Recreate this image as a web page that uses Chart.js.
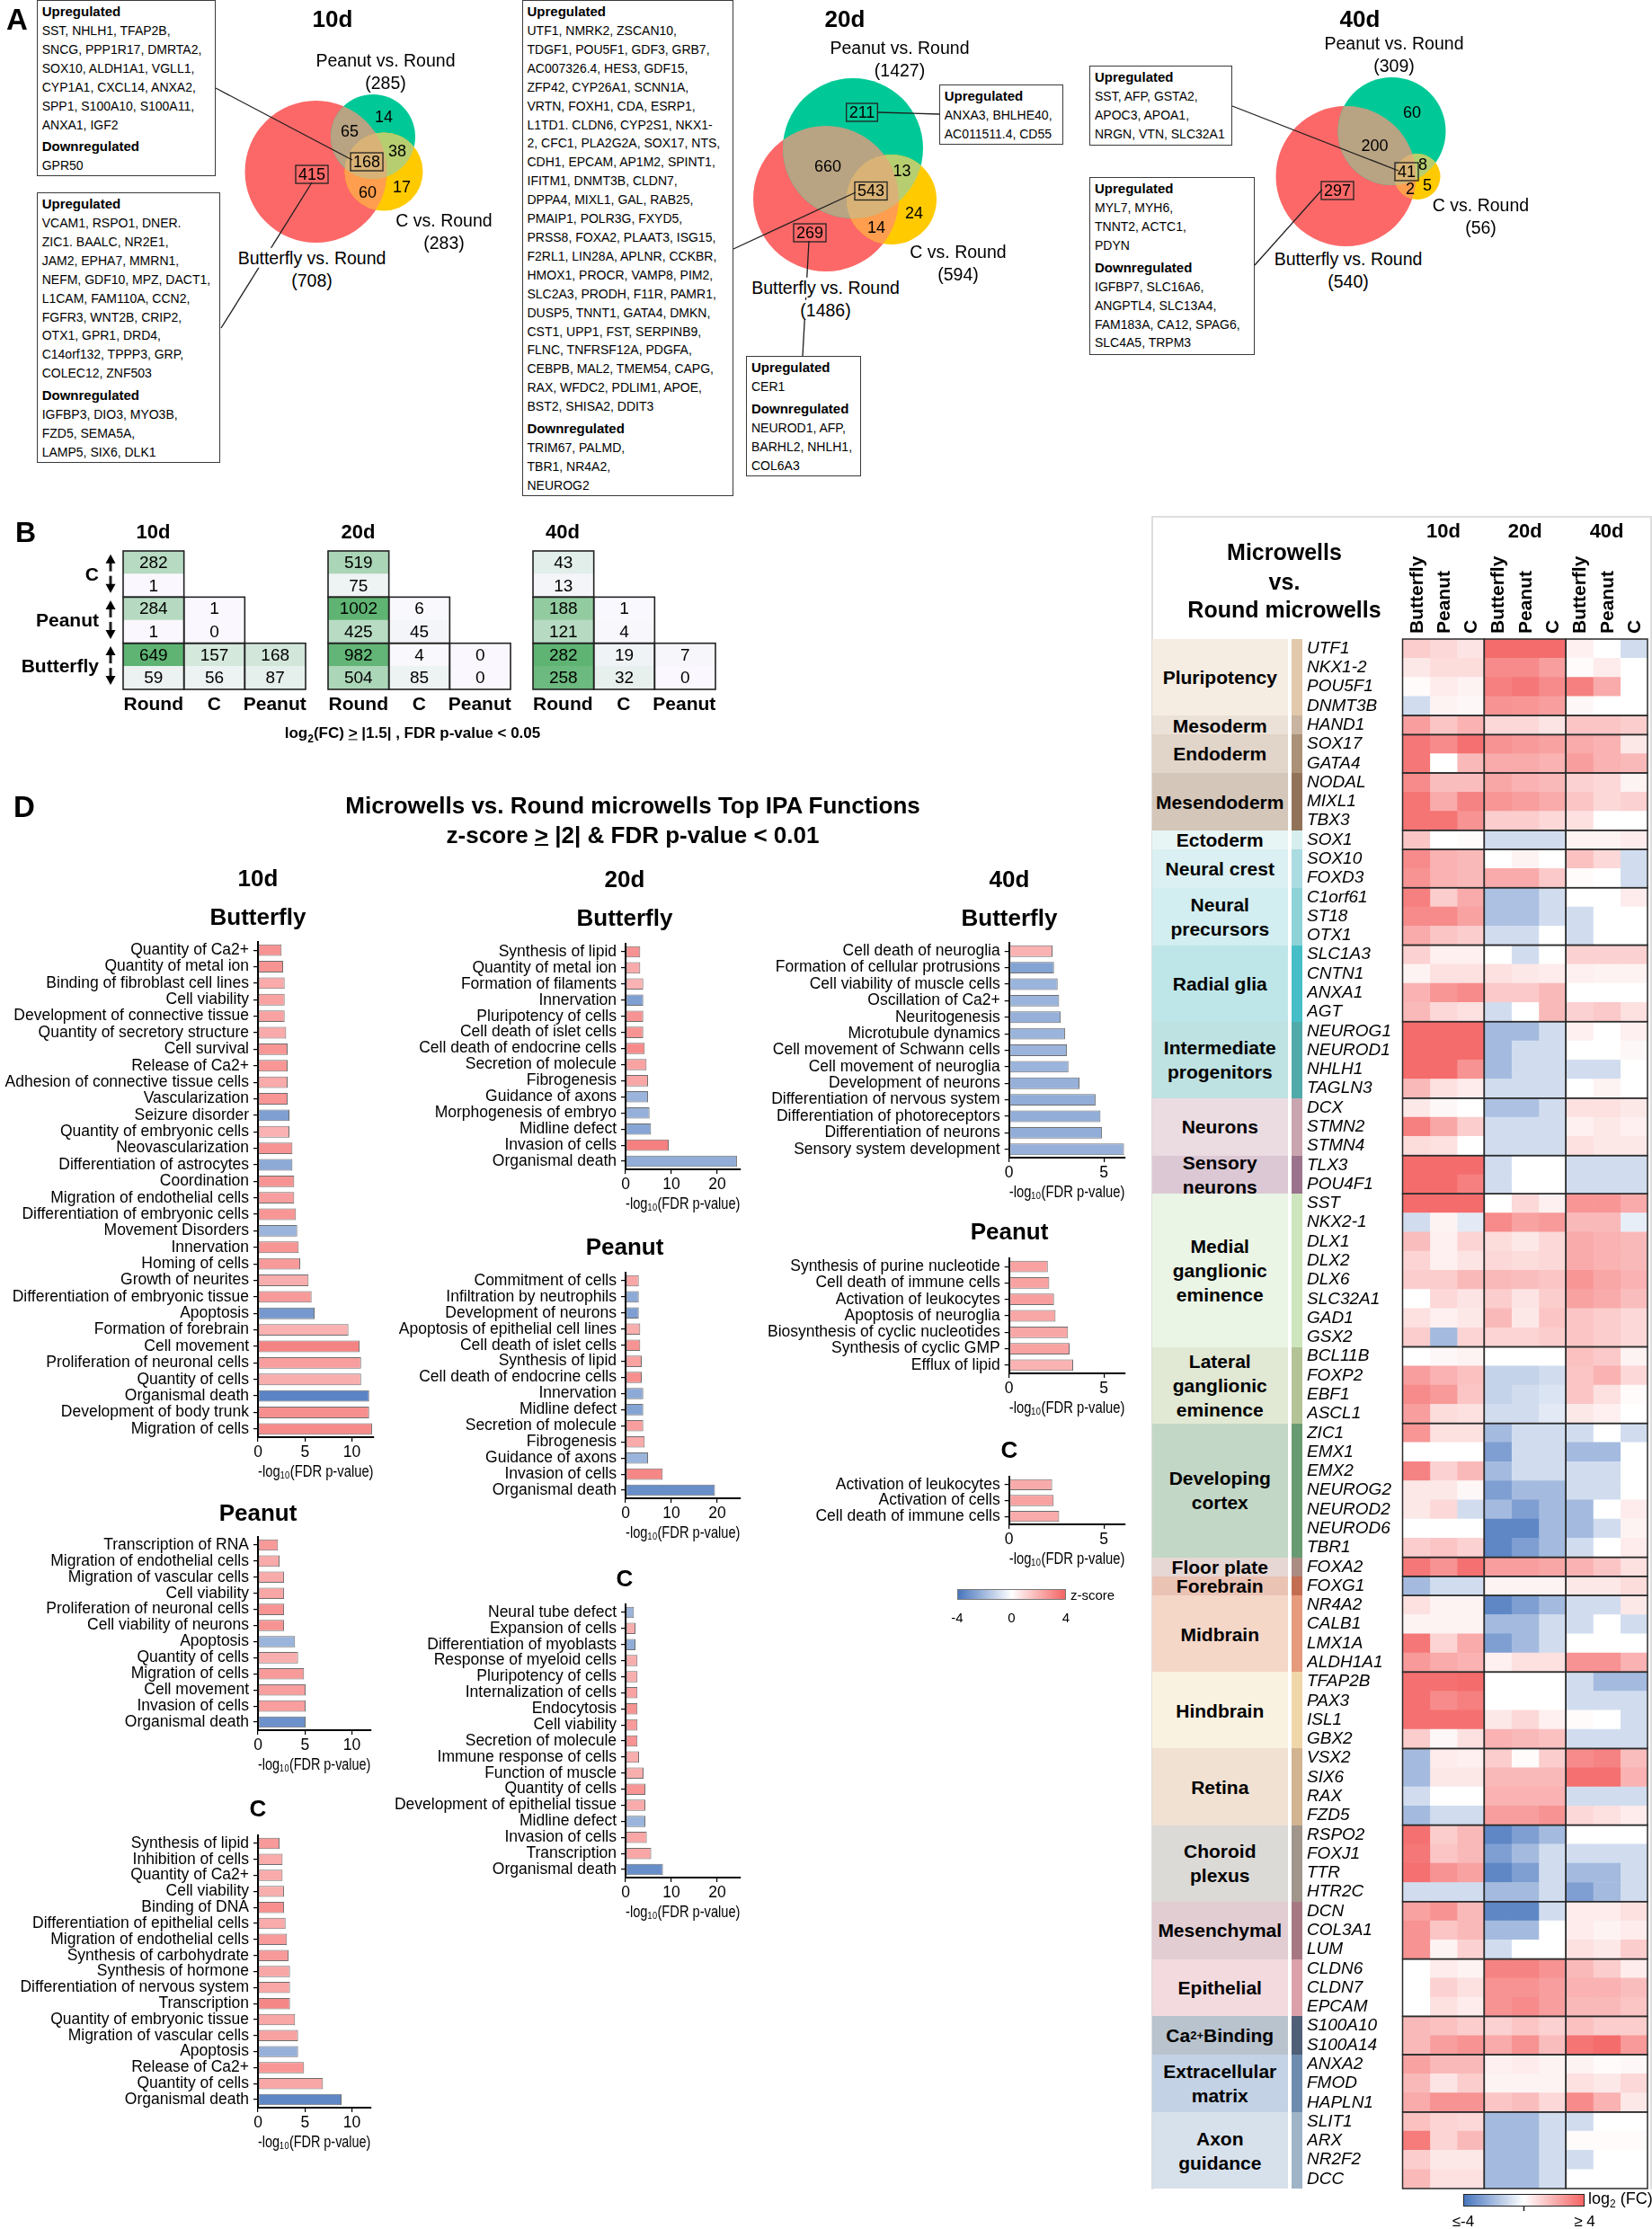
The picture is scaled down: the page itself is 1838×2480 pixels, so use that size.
<!DOCTYPE html>
<html>
<head>
<meta charset="utf-8">
<title>Microwells vs. Round microwells</title>
<script src="https://cdn.jsdelivr.net/npm/chart.js@4.4.1/dist/chart.umd.min.js"></script>
<style>
  html, body { margin: 0; padding: 0; background: #fff; }
  #page { position: relative; width: 1838px; height: 2480px; overflow: hidden;
          font-family: "Liberation Sans", Arial, Helvetica, sans-serif; color: #000; }
  #page canvas { position: absolute; z-index: 1; }
  .t { position: absolute; white-space: nowrap; line-height: 1.15; z-index: 4; }
  .b { font-weight: bold; }
  .gbox { position: absolute; box-sizing: border-box; border: 1.5px solid #3a3a3a; background: #fff;
          padding: 0 0 0 5px; font-size: 14px; line-height: 20.9px; white-space: nowrap; z-index: 2; }
  .gbox .h { font-weight: bold; font-size: 15px; line-height: 23px; }
  .gbox .h2 { margin-top: 2px; }
  .band { position: absolute; box-sizing: border-box; display: flex; align-items: center; justify-content: center;
          text-align: center; font-weight: bold; font-size: 21px; line-height: 27px; }
  #ov { position: absolute; left: 0; top: 0; z-index: 3; pointer-events: none; }
</style>
</head>
<body>
<div id="page"></div>
<script>
// ---------------- data ----------------
// A: Venn counts, order: B only, P only, C only, B&P, B&C, P&C, B&P&C
const vennNames = ['Butterfly vs. Round', 'Peanut vs. Round', 'C vs. Round'];
const venn10dTotals = [708, 285, 283];
const venn10dCounts = [415, 14, 17, 65, 60, 38, 168];
const venn20dTotals = [1486, 1427, 594];
const venn20dCounts = [269, 211, 24, 660, 14, 13, 543];
const venn40dTotals = [540, 309, 56];
const venn40dCounts = [297, 60, 5, 200, 2, 8, 41];

// A: gene lists in the call-out boxes
const box10dTriple = [['Upregulated', ['SST, NHLH1, TFAP2B,', 'SNCG, PPP1R17, DMRTA2,', 'SOX10, ALDH1A1, VGLL1,', 'CYP1A1, CXCL14, ANXA2,', 'SPP1, S100A10, S100A11,', 'ANXA1, IGF2']],
                      ['Downregulated', ['GPR50']]];
const box10dButterfly = [['Upregulated', ['VCAM1, RSPO1, DNER.', 'ZIC1. BAALC, NR2E1,', 'JAM2, EPHA7, MMRN1,', 'NEFM, GDF10, MPZ, DACT1,', 'L1CAM, FAM110A, CCN2,', 'FGFR3, WNT2B, CRIP2,', 'OTX1, GPR1, DRD4,', 'C14orf132, TPPP3, GRP,', 'COLEC12, ZNF503']],
                         ['Downregulated', ['IGFBP3, DIO3, MYO3B,', 'FZD5, SEMA5A,', 'LAMP5, SIX6, DLK1']]];
const box20dTriple = [['Upregulated', ['UTF1, NMRK2, ZSCAN10,', 'TDGF1, POU5F1, GDF3, GRB7,', 'AC007326.4, HES3, GDF15,', 'ZFP42, CYP26A1, SCNN1A,', 'VRTN, FOXH1, CDA, ESRP1,', 'L1TD1. CLDN6, CYP2S1, NKX1-', '2, CFC1, PLA2G2A, SOX17, NTS,', 'CDH1, EPCAM, AP1M2, SPINT1,', 'IFITM1, DNMT3B, CLDN7,', 'DPPA4, MIXL1, GAL, RAB25,', 'PMAIP1, POLR3G, FXYD5,', 'PRSS8, FOXA2, PLAAT3, ISG15,', 'F2RL1, LIN28A, APLNR, CCKBR,', 'HMOX1, PROCR, VAMP8, PIM2,', 'SLC2A3, PRODH, F11R, PAMR1,', 'DUSP5, TNNT1, GATA4, DMKN,', 'CST1, UPP1, FST, SERPINB9,', 'FLNC, TNFRSF12A, PDGFA,', 'CEBPB, MAL2, TMEM54, CAPG,', 'RAX, WFDC2, PDLIM1, APOE,', 'BST2, SHISA2, DDIT3']],
                      ['Downregulated', ['TRIM67, PALMD,', 'TBR1, NR4A2,', 'NEUROG2']]];
const box20dPeanut = [['Upregulated', ['ANXA3, BHLHE40,', 'AC011511.4, CD55']]];
const box20dButterfly = [['Upregulated', ['CER1']], ['Downregulated', ['NEUROD1, AFP,', 'BARHL2, NHLH1,', 'COL6A3']]];
const box40dTriple = [['Upregulated', ['SST, AFP, GSTA2,', 'APOC3, APOA1,', 'NRGN, VTN, SLC32A1']]];
const box40dButterfly = [['Upregulated', ['MYL7, MYH6,', 'TNNT2, ACTC1,', 'PDYN']],
                         ['Downregulated', ['IGFBP7, SLC16A6,', 'ANGPTL4, SLC13A4,', 'FAM183A, CA12, SPAG6,', 'SLC4A5, TRPM3']]];

// B: number of DEGs (rows C, Peanut, Butterfly; columns vs Round, C, Peanut)
const degRows = ['C', 'Peanut', 'Butterfly'];
const degCols = ['Round', 'C', 'Peanut'];
const deg10dUp = [[282], [284, 1], [649, 157, 168]];
const deg10dDown = [[1], [1, 0], [59, 56, 87]];
const deg20dUp = [[519], [1002, 6], [982, 4, 0]];
const deg20dDown = [[75], [425, 45], [504, 85, 0]];
const deg40dUp = [[43], [188, 1], [282, 19, 7]];
const deg40dDown = [[13], [121, 4], [258, 32, 0]];

// D: IPA functions, -log10(FDR p-value) and z-score
const d10ButterflyLabels = ['Quantity of Ca2+', 'Quantity of metal ion', 'Binding of fibroblast cell lines', 'Cell viability', 'Development of connective tissue', 'Quantity of secretory structure', 'Cell survival', 'Release of Ca2+', 'Adhesion of connective tissue cells', 'Vascularization', 'Seizure disorder', 'Quantity of embryonic cells', 'Neovascularization', 'Differentiation of astrocytes', 'Coordination', 'Migration of endothelial cells', 'Differentiation of embryonic cells', 'Movement Disorders', 'Innervation', 'Homing of cells', 'Growth of neurites', 'Differentiation of embryonic tissue', 'Apoptosis', 'Formation of forebrain', 'Cell movement', 'Proliferation of neuronal cells', 'Quantity of cells', 'Organismal death', 'Development of body trunk', 'Migration of cells'];
const d10ButterflyP = [2.52, 2.68, 2.84, 2.84, 2.84, 3.0, 3.16, 3.16, 3.16, 3.16, 3.35, 3.35, 3.67, 3.67, 3.86, 3.86, 4.05, 4.18, 4.34, 4.5, 5.39, 5.71, 6.03, 9.63, 10.81, 10.98, 10.98, 11.84, 11.84, 12.15];
const d10ButterflyZ = [2.8, 2.8, 2.2, 2.4, 2.4, 2.2, 2.7, 2.7, 2.2, 2.7, -2.8, 2.0, 2.8, -2.5, 2.8, 2.5, 2.7, -2.2, 2.7, 2.6, 2.1, 2.6, -3.0, 2.0, 3.2, 2.5, 2.1, -3.6, 2.9, 3.0];

const d10PeanutLabels = ['Transcription of RNA', 'Migration of endothelial cells', 'Migration of vascular cells', 'Cell viability', 'Proliferation of neuronal cells', 'Cell viability of neurons', 'Apoptosis', 'Quantity of cells', 'Migration of cells', 'Cell movement', 'Invasion of cells', 'Organismal death'];
const d10PeanutP = [2.14, 2.3, 2.78, 2.78, 2.78, 2.78, 3.95, 4.27, 4.91, 5.07, 5.07, 5.07];
const d10PeanutZ = [2.6, 2.2, 2.2, 2.3, 2.8, 2.8, -2.2, 2.1, 2.6, 2.5, 2.5, -3.2];

const d10CLabels = ['Synthesis of lipid', 'Inhibition of cells', 'Quantity of Ca2+', 'Cell viability', 'Binding of DNA', 'Differentiation of epithelial cells', 'Migration of endothelial cells', 'Synthesis of carbohydrate', 'Synthesis of hormone', 'Differentiation of nervous system', 'Transcription', 'Quantity of embryonic tissue', 'Migration of vascular cells', 'Apoptosis', 'Release of Ca2+', 'Quantity of cells', 'Organismal death'];
const d10CP = [2.3, 2.62, 2.62, 2.78, 2.78, 2.94, 3.09, 3.25, 3.41, 3.41, 3.41, 3.95, 4.27, 4.27, 4.91, 6.92, 8.9];
const d10CZ = [2.6, 2.2, 2.2, 2.1, 2.9, 2.2, 2.6, 2.6, 2.3, 2.3, 3.1, 2.3, 2.4, -2.3, 2.7, 2.3, -3.5];

const d20ButterflyLabels = ['Synthesis of lipid', 'Quantity of metal ion', 'Formation of filaments', 'Innervation', 'Pluripotency of cells', 'Cell death of islet cells', 'Cell death of endocrine cells', 'Secretion of molecule', 'Fibrogenesis', 'Guidance of axons', 'Morphogenesis of embryo', 'Midline defect', 'Invasion of cells', 'Organismal death'];
const d20ButterflyP = [3.2, 3.2, 3.86, 3.86, 3.86, 3.86, 4.18, 4.58, 4.9, 4.9, 5.23, 5.56, 9.41, 24.3];
const d20ButterflyZ = [2.8, 2.2, 2.0, -2.8, 2.8, 2.8, 3.0, 2.4, 2.3, -2.2, -2.3, -2.6, 3.3, -2.4];

const d20PeanutLabels = ['Commitment of cells', 'Infiltration by neutrophils', 'Development of neurons', 'Apoptosis of epithelial cell lines', 'Cell death of islet cells', 'Synthesis of lipid', 'Cell death of endocrine cells', 'Innervation', 'Midline defect', 'Secretion of molecule', 'Fibrogenesis', 'Guidance of axons', 'Invasion of cells', 'Organismal death'];
const d20PeanutP = [2.88, 2.88, 2.88, 3.2, 3.2, 3.53, 3.53, 3.86, 3.86, 3.86, 4.18, 4.9, 8.1, 19.5];
const d20PeanutZ = [2.3, -2.5, -2.8, 2.1, 2.8, 2.4, 2.9, -2.5, -2.7, 2.5, 2.2, -2.2, 3.1, -3.3];

const d20CLabels = ['Neural tube defect', 'Expansion of cells', 'Differentiation of myoblasts', 'Response of myeloid cells', 'Pluripotency of cells', 'Internalization of cells', 'Endocytosis', 'Cell viability', 'Secretion of molecule', 'Immune response of cells', 'Function of muscle', 'Quantity of cells', 'Development of epithelial tissue', 'Midline defect', 'Invasion of cells', 'Transcription', 'Organismal death'];
const d20CP = [1.83, 2.16, 2.16, 2.6, 2.6, 2.6, 2.6, 2.6, 2.6, 2.94, 3.92, 4.31, 4.31, 4.31, 4.63, 5.6, 8.16];
const d20CZ = [-2.2, 2.1, -2.4, 2.1, 2.1, 2.4, 2.8, 2.6, 2.8, 2.1, 2.1, 2.7, 2.2, -2.2, 2.3, 2.3, -3.3];

const d40ButterflyLabels = ['Cell death of neuroglia', 'Formation of cellular protrusions', 'Cell viability of muscle cells', 'Oscillation of Ca2+', 'Neuritogenesis', 'Microtubule dynamics', 'Cell movement of Schwann cells', 'Cell movement of neuroglia', 'Development of neurons', 'Differentiation of nervous system', 'Differentiation of photoreceptors', 'Differentiation of neurons', 'Sensory system development'];
const d40ButterflyP = [2.29, 2.37, 2.56, 2.64, 2.72, 2.95, 3.05, 3.13, 3.71, 4.56, 4.82, 4.9, 6.06];
const d40ButterflyZ = [2.0, -2.7, -2.2, -2.2, -2.3, -2.2, -2.2, -2.2, -2.3, -2.4, -2.4, -2.4, -2.3];

const d40PeanutLabels = ['Synthesis of purine nucleotide', 'Cell death of immune cells', 'Activation of leukocytes', 'Apoptosis of neuroglia', 'Biosynthesis of cyclic nucleotides', 'Synthesis of cyclic GMP', 'Efflux of lipid'];
const d40PeanutP = [2.04, 2.12, 2.37, 2.45, 3.11, 3.19, 3.38];
const d40PeanutZ = [2.4, 2.4, 2.5, 2.3, 2.3, 2.4, 2.0];

const d40CLabels = ['Activation of leukocytes', 'Activation of cells', 'Cell death of immune cells'];
const d40CP = [2.27, 2.35, 2.64];
const d40CZ = [2.2, 2.4, 2.2];

// C: heatmap of log2(FC), each row = [Butterfly, Peanut, C]
const heatGroupNames = ['Pluripotency', 'Mesoderm', 'Endoderm', 'Mesendoderm', 'Ectoderm', 'Neural crest', 'Neural<br>precursors', 'Radial glia', 'Intermediate<br>progenitors', 'Neurons', 'Sensory<br>neurons', 'Medial<br>ganglionic<br>eminence', 'Lateral<br>ganglionic<br>eminence', 'Developing<br>cortex', 'Floor plate', 'Forebrain', 'Midbrain', 'Hindbrain', 'Retina', 'Choroid<br>plexus', 'Mesenchymal', 'Epithelial', 'Ca<sup style="font-size:13px">2+</sup>Binding', 'Extracellular<br>matrix', 'Axon<br>guidance'];
const heatGroupSizes = [4, 1, 2, 3, 1, 2, 3, 4, 4, 3, 2, 8, 4, 7, 1, 1, 4, 4, 4, 4, 3, 3, 2, 3, 4];
const heatGenes = ['UTF1', 'NKX1-2', 'POU5F1', 'DNMT3B', 'HAND1', 'SOX17', 'GATA4', 'NODAL', 'MIXL1', 'TBX3', 'SOX1', 'SOX10', 'FOXD3', 'C1orf61', 'ST18', 'OTX1', 'SLC1A3', 'CNTN1', 'ANXA1', 'AGT', 'NEUROG1', 'NEUROD1', 'NHLH1', 'TAGLN3', 'DCX', 'STMN2', 'STMN4', 'TLX3', 'POU4F1', 'SST', 'NKX2-1', 'DLX1', 'DLX2', 'DLX6', 'SLC32A1', 'GAD1', 'GSX2', 'BCL11B', 'FOXP2', 'EBF1', 'ASCL1', 'ZIC1', 'EMX1', 'EMX2', 'NEUROG2', 'NEUROD2', 'NEUROD6', 'TBR1', 'FOXA2', 'FOXG1', 'NR4A2', 'CALB1', 'LMX1A', 'ALDH1A1', 'TFAP2B', 'PAX3', 'ISL1', 'GBX2', 'VSX2', 'SIX6', 'RAX', 'FZD5', 'RSPO2', 'FOXJ1', 'TTR', 'HTR2C', 'DCN', 'COL3A1', 'LUM', 'CLDN6', 'CLDN7', 'EPCAM', 'S100A10', 'S100A14', 'ANXA2', 'FMOD', 'HAPLN1', 'SLIT1', 'ARX', 'NR2F2', 'DCC'];
const fc10d = [[1.3,1.0,0.7],[0.6,0.9,0.9],[0.1,0.5,0.3],[-1,0.3,0.2],[2.5,1.5,2],[3.5,3.0,3.7],[3.5,0,1.8],[3.0,1.7,1.7],[3.6,2.2,3.2],[3.6,3.6,2.8],
  [1.5,0,0.1],[3.0,2.0,1.8],[2.8,2.0,1.8],[3.3,1.3,2.2],[3.0,3.0,2.4],[2.2,1.5,1.3],[1.2,0.4,0.4],[0.3,0.8,0.8],[2.0,2.7,3.0],[1.8,1.0,0.8],
  [3.8,3.8,3.8],[3.8,3.8,3.8],[3.8,3.8,2.8],[1.8,0.8,0.5],[0.6,0.2,0],[3.3,2.3,1.3],[0.9,0.8,0],[3.8,3.8,3.8],[3.8,3.8,3.3],[3.8,3.8,3.8],
  [-1,0.3,-0.6],[1.7,0.4,1.1],[1.1,0.4,0.7],[1.3,1.3,1.8],[0,1.0,0.7],[0.8,0.4,0.6],[1.3,-2,1.1],[0,0.2,0.3],[2.5,2.0,1.6],[3.0,2.6,1.5],
  [2.5,0.9,0.8],[2.7,0.8,0.8],[0,0,0],[3.2,1.2,1.8],[0.6,0.6,0.2],[0.6,1.0,-1],[0,0,0],[1.3,1.5,1.2],[3.5,2.8,3.7],[-2,-1,-1],
  [0.8,0.3,0.3],[0.3,0.3,0.3],[3.5,1.1,2.2],[2.6,2.2,2.0],[3.7,3.7,3.8],[3.7,3.0,3.3],[3.7,3.7,3.7],[1.3,0.2,0.8],[-2,0.5,0.4],[-2,0.6,0.6],
  [-1,0,0],[-2,-1,-1],[3.7,1.3,1.8],[3.5,1.5,1.8],[3.7,2.8,2.4],[-1,-1,-1],[2.4,2.8,1.8],[2.8,1.5,1.8],[2.8,0.3,1.2],[0,0.5,0.3],
  [0,1.2,0.8],[0,0.8,0.5],[1.8,1.6,1.3],[1.8,2.5,2.8],[2.4,1.8,1.8],[1.8,0.7,1.3],[2.2,2.8,2.8],[1.6,1.1,1.0],[3.4,1.1,1.8],[1.3,0.6,0.6],[1.8,0.8,0.8]];
const fc20d = [[3.8,3.8,3.8],[3.0,3.0,2.5],[3.3,3.5,3.0],[2.8,2.7,2.5],[1.0,1.0,0.7],[2.8,2.6,2.4],[2.2,2.2,2.0],[2.3,2.0,1.8],[2.7,2.5,2.2],[1.3,1.3,1.0],
  [-1,-1,-1],[0,0.3,0],[2.2,2.2,1.4],[-1.8,-1.8,-1],[-1.8,-1.8,-1],[-1,-1,0],[0,-1,0],[0.8,0.6,0.5],[1.4,1.4,1.8],[-1,0,1.8],
  [-2,-2,-1],[-2,-1,-1],[-2,-1,-1],[-1,-1,-1],[-1.8,-1.8,-1],[-1,-1,-1],[-1,-1,-1],[-1,0,0],[-1,0,0],[0,1.0,0.4],
  [3.0,2.4,2.6],[0.9,0.6,1.0],[1.0,0.9,1.0],[1.8,1.7,1.5],[1.3,0.7,1.3],[1.8,0.6,1.5],[1.1,1.1,1.3],[0,0,0],[-1.3,-1.3,-1],[-1.3,-1,-0.8],
  [-1,-1,-0.6],[-2,-1,-1],[-2.8,-1,-1],[-2,-1,-1],[-2.8,-2,-2],[-2,-2.8,-2],[-3.5,-3.5,-2],[-3.5,-2.8,-2],[2.5,2.5,2.3],[0.3,0.3,0.3],
  [-3.5,-2.8,-2],[-2,-2,-1],[-2.8,-2,-1],[0.4,0.8,0.8],[0,0,0],[0,0,0],[0.6,1.0,0.4],[2.0,1.8,1.6],[1.3,0.1,1.3],[1.8,1.8,1.8],
  [2.0,2.0,2.0],[2.5,2.5,2.8],[-3.5,-2.8,-2],[-2.8,-2,-1],[-3.5,-2.8,-1],[-2,-2,-1],[-3.5,-3.5,-1],[-2,-2,0],[-1,0,0],[3.2,3.2,2.8],
  [2.8,2.8,2.5],[2.8,3.0,2.5],[1.2,1.5,1.2],[2.2,2.8,1.7],[0.4,0.5,0.3],[0.3,0.3,0.3],[1.5,1.7,1.0],[-2,-2,-1],[-2,-2,-1],[-2,-2,-1],[-2,-2,-1]];
const fc40d = [[0.4,0,-1],[0.1,0.5,0],[3.3,2.2,0],[0.2,0,0],[1.5,1.5,1.3],[2.2,2.0,0.6],[2.5,2.0,1.8],[1.2,1.0,0.3],[1.5,1.0,1.2],[0.8,0,0],
  [0.3,0.3,0.5],[1.6,1.0,-1],[0.1,0,-1],[0,0,0.5],[-1,0,0],[-1,0,0],[1.2,1.2,1.2],[0.4,0.3,0.3],[0,0,0],[1.2,1.4,0.8],
  [0.4,0,0.4],[0,0,0.2],[-1,-1,0],[0,0.3,0],[0.8,0.8,0.6],[0.4,0.6,0.4],[0.8,0.6,0.6],[-1,-1,-1],[-1,-1,-1],[2.7,2.7,2.2],
  [1.8,1.8,-0.5],[2.2,2.0,1.8],[2.2,2.0,1.8],[2.7,2.3,2.0],[2.4,2.2,1.7],[1.5,1.3,1.0],[1.5,1.3,1.0],[1.6,1.4,0.3],[1.5,2.0,1.0],[1.5,0.8,0.1],
  [0.6,0.4,0],[-1,0,-1],[-2,-2,0],[-1,-1,0],[-1,-1,0],[-2,0,0.5],[-2,-1,0.3],[-1,0,0.5],[2.0,1.5,0.8],[0.6,0.6,0.9],
  [-1,-1,0.6],[-1,0,-1],[0,0,0],[2.8,2.8,2.0],[-1,-2,-2],[-1,-1,-1],[0.1,0,-1],[-1,-1,-1],[3.0,3.2,1.7],[3.7,3.7,2.0],
  [-1,-1,-1],[1.0,0.8,0.5],[0,0,0],[-1,-1,-1],[-2,-2,-1],[-2.8,-2,-1],[0.5,0.5,0.8],[0.5,0.3,0.5],[0.8,0.6,1.3],[1.8,1.3,0.5],
  [2.0,2.0,1.7],[1.8,1.8,1.5],[1.6,1.3,1.3],[3.6,3.8,2.6],[0.3,0.1,0.2],[0.8,0.6,1.0],[3.0,2.0,0.6],[-1,0,0],[0.1,0.1,0.1],[-1,0,0],[0,0,0]];

// ---------------- styles ----------------
const BLUE = [72, 118, 190], WHITE = [255, 255, 255], RED = [244, 100, 100];
const vennFill = ['rgb(252,104,104)', 'rgb(0,201,151)', 'rgb(255,202,0)'];
const vennMix = { BP: 'rgb(184,163,131)', BC: 'rgb(255,158,78)', PC: 'rgb(183,206,112)', BPC: 'rgb(216,178,118)' };
const groupStyle = [
  ['#f5ece2', '#e2c9ab'], ['#ebe1d7', '#c8b4a0'], ['#e1d4c8', '#aa9178'], ['#d4c6b9', '#91735a'],
  ['#e8f5f5', '#d7eeee'], ['#daf0f2', '#aadce1'], ['#d2eef0', '#8cd2d7'], ['#bee6e8', '#46bec8'],
  ['#bee1e1', '#50aaaa'], ['#ebdce1', '#c8a5af'], ['#dcc8d4', '#9b738c'], ['#ebf5e6', '#cde6be'],
  ['#e1e8d4', '#b4c396'], ['#c3d7c6', '#699b73'], ['#e6d7d4', '#aa8c82'], ['#ebc3b4', '#c36e50'],
  ['#f5d7c8', '#e69b7d'], ['#faf2e1', '#f0d7aa'], ['#f0e1d2', '#d2b491'], ['#dcdad7', '#a0968c'],
  ['#e1cdd2', '#a57882'], ['#f2dade', '#dca0aa'], ['#b9c3cd', '#505f78'], ['#c3d2e4', '#6e8caf'],
  ['#d7e1eb', '#a0b4c8']];

function mix(a, b, t) { return a.map((v, i) => Math.round(v + (b[i] - v) * t)); }
function fcColor(v) {
  const t = Math.max(-1, Math.min(1, v / 4));
  return 'rgb(' + (t < 0 ? mix(WHITE, BLUE, -t) : mix(WHITE, RED, t)).join(',') + ')';
}
function degColor(v, max) { return 'rgb(' + mix([250, 248, 254], [95, 180, 115], v / max).join(',') + ')'; }

Chart.defaults.font.family = '"Liberation Sans", Arial, Helvetica, sans-serif';
Chart.defaults.color = '#000';

// ---------------- helpers ----------------
const page = document.getElementById('page');
function el(tag, css, html) {
  const d = document.createElement(tag);
  if (css) d.style.cssText = css;
  if (html !== undefined) d.innerHTML = html;
  page.appendChild(d);
  return d;
}
function txt(html, x, y, css, align) {
  const tx = align === 'left' ? '0' : align === 'right' ? '-100%' : '-50%';
  const d = el('div', `left:${x}px;top:${y}px;transform:translate(${tx},-50%);${css || ''}`, html);
  d.className = 't';
  return d;
}
function addCanvas(left, top, w, h) {
  const c = document.createElement('canvas');
  c.width = Math.round(w); c.height = Math.round(h);
  c.style.cssText = `left:${left}px;top:${top}px;width:${c.width}px;height:${c.height}px;`;
  page.appendChild(c);
  return c;
}
const svgNS = 'http://www.w3.org/2000/svg';
const ov = document.createElementNS(svgNS, 'svg');
ov.setAttribute('id', 'ov'); ov.setAttribute('width', 1838); ov.setAttribute('height', 2480);
page.appendChild(ov);
function line(x1, y1, x2, y2, w) {
  const l = document.createElementNS(svgNS, 'line');
  l.setAttribute('x1', x1); l.setAttribute('y1', y1); l.setAttribute('x2', x2); l.setAttribute('y2', y2);
  l.setAttribute('stroke', '#1e1e1e'); l.setAttribute('stroke-width', w || 1.3);
  ov.appendChild(l);
}
function poly(pts) {
  const p = document.createElementNS(svgNS, 'polygon');
  p.setAttribute('points', pts.map(q => q.join(',')).join(' ')); p.setAttribute('fill', '#000');
  ov.appendChild(p);
}
function geneBox(left, top, w, h, sections) {
  let html = '';
  sections.forEach((s, i) => {
    html += `<div class="h${i ? ' h2' : ''}">${s[0]}</div>` + s[1].map(l => `<div>${l}</div>`).join('');
  });
  const d = el('div', `left:${left}px;top:${top}px;width:${w}px;height:${h}px;`, html);
  d.className = 'gbox';
}

// ---------------- A: Venn diagrams ----------------
function venn(left, top, w, h, circles, counts, pos, boxed) {
  const cv = addCanvas(left, top, w, h);
  const overlap = {
    id: 'vennOverlap',
    afterDatasetsDraw(chart) {
      const ctx = chart.ctx;
      const pts = chart.getDatasetMeta(0).data;
      const clip = i => { ctx.beginPath(); ctx.arc(pts[i].x, pts[i].y, circles[i][2], 0, 2 * Math.PI); ctx.clip(); };
      const fillInter = (ids, color) => {
        ctx.save(); ids.forEach(clip); ctx.fillStyle = color; ctx.fillRect(0, 0, chart.width, chart.height); ctx.restore();
      };
      fillInter([0, 1], vennMix.BP); fillInter([0, 2], vennMix.BC); fillInter([1, 2], vennMix.PC); fillInter([0, 1, 2], vennMix.BPC);
      ctx.save();
      ctx.font = '18px "Liberation Sans", Arial, sans-serif';
      ctx.textAlign = 'center'; ctx.textBaseline = 'middle'; ctx.fillStyle = '#000';
      counts.forEach((v, i) => {
        const x = pos[i][0] - left, y = pos[i][1] - top;
        ctx.fillText(String(v), x, y + 1);
        if (boxed.includes(i)) {
          const bw = ctx.measureText(String(v)).width + 6;
          ctx.lineWidth = 1.3; ctx.strokeStyle = '#222';
          ctx.strokeRect(x - bw / 2, y - 10, bw, 20);
        }
      });
      ctx.restore();
    }
  };
  new Chart(cv, {
    type: 'bubble',
    data: { datasets: [{ data: circles.map(c => ({ x: c[0] - left, y: c[1] - top, r: c[2] })), backgroundColor: vennFill, borderWidth: 0, hoverRadius: 0, clip: false }] },
    options: {
      responsive: false, animation: false, events: [], layout: { autoPadding: false, padding: 0 },
      plugins: { legend: { display: false }, tooltip: { enabled: false } },
      scales: { x: { type: 'linear', min: 0, max: w, display: false }, y: { type: 'linear', min: 0, max: h, reverse: true, display: false } }
    },
    plugins: [overlap]
  });
}
function vennLabels(totals, at) {
  totals.forEach((n, i) => {
    const bg = i === 0 ? 'background:#fff;padding:0 3px;' : '';
    txt(vennNames[i], at[i][0], at[i][1], 'font-size:19.5px;' + bg);
    txt('(' + n + ')', at[i][0], at[i][1] + 25, 'font-size:19.5px;' + bg);
  });
}

txt('A', 7, 22, 'font-size:33px;font-weight:bold;', 'left');
txt('10d', 370, 22, 'font-size:26px;font-weight:bold;');
txt('20d', 940, 22, 'font-size:26px;font-weight:bold;');
txt('40d', 1513, 22, 'font-size:26px;font-weight:bold;');

venn(250, 90, 270, 210, [[351.5, 191, 79], [415, 152, 47], [427, 191, 43.5]], venn10dCounts,
  [[347, 194], [427, 130], [447, 208], [389, 146], [409, 214], [442, 168], [408, 180]], [0, 6]);
venn(830, 80, 220, 232, [[919, 221, 81], [949, 165, 78], [992, 222, 50]], venn20dCounts,
  [[901, 259], [959, 125], [1017, 237], [921, 185], [975, 253], [1003.5, 190], [969, 212.5]], [0, 1, 6]);
venn(1410, 80, 210, 205, [[1497.5, 196, 78], [1548.5, 146, 60], [1577, 196.5, 25.5]], venn40dCounts,
  [[1488, 212], [1571, 125], [1588, 206], [1529.5, 162], [1569, 210], [1583, 183], [1565, 191]], [0, 6]);

vennLabels(venn10dTotals, [[347, 287], [429, 67], [494, 245]]);
vennLabels(venn20dTotals, [[918.5, 320], [1001, 53], [1066, 280]]);
vennLabels(venn40dTotals, [[1500, 288], [1551, 48], [1647.5, 228]]);

geneBox(40.7, 0, 199, 196, box10dTriple);
geneBox(40.7, 214, 204.3, 301, box10dButterfly);
geneBox(580.5, 0, 235.5, 552, box20dTriple);
geneBox(1044.7, 94, 138.3, 67, box20dPeanut);
geneBox(830, 396, 128, 134, box20dButterfly);
geneBox(1212, 73, 159, 89, box40dTriple);
geneBox(1212, 197, 184, 198, box40dButterfly);

line(240, 98, 392, 178); line(347, 203, 246, 365);
line(977, 125, 1045, 127); line(952, 214, 816, 277); line(900, 268, 893, 396);
line(1371, 118, 1556, 190); line(1471, 211, 1396, 295);

// ---------------- B: DEG tables ----------------
function degTable(left, up, down) {
  const pad = 2, cw = 67.5, rh = 25.6, top = 612.7;
  const rows = [up[0], down[0], up[1], down[1], up[2], down[2]];
  const max = Math.max(...up.flat(), ...down.flat());
  const cv = addCanvas(left - pad, top - pad, 3 * cw + 2 * pad, 6 * rh + 2 * pad);
  const datasets = degCols.map((c, ci) => ({
    label: c,
    data: rows.map(r => r.length > ci ? [ci, ci + 1] : null),
    backgroundColor: rows.map(r => degColor(r.length > ci ? r[ci] : 0, max)),
    borderWidth: 0, grouped: false, barPercentage: 1, categoryPercentage: 1
  }));
  const cells = {
    id: 'degCells',
    afterDatasetsDraw(chart) {
      const { ctx, scales: { x, y } } = chart;
      ctx.save();
      ctx.font = '19px "Liberation Sans", Arial, sans-serif';
      ctx.textAlign = 'center'; ctx.textBaseline = 'middle'; ctx.fillStyle = '#000';
      rows.forEach((r, ri) => r.forEach((v, ci) => ctx.fillText(String(v), x.getPixelForValue(ci + 0.5), y.getPixelForValue(ri) + 1)));
      ctx.strokeStyle = '#222'; ctx.lineWidth = 1.6;
      const h = (y.bottom - y.top) / 6;
      degRows.forEach((g, gi) => {
        for (let ci = 0; ci <= gi; ci++) {
          const x0 = x.getPixelForValue(ci), x1 = x.getPixelForValue(ci + 1);
          ctx.strokeRect(x0, y.top + 2 * gi * h, x1 - x0, 2 * h);
        }
      });
      ctx.restore();
    }
  };
  new Chart(cv, {
    type: 'bar',
    data: { labels: ['C up', 'C down', 'Peanut up', 'Peanut down', 'Butterfly up', 'Butterfly down'], datasets },
    options: {
      indexAxis: 'y', responsive: false, animation: false, events: [], layout: { padding: pad },
      plugins: { legend: { display: false }, tooltip: { enabled: false } },
      scales: { x: { min: 0, max: 3, display: false }, y: { display: false } }
    },
    plugins: [cells]
  });
  degCols.forEach((c, ci) => txt(c, left + cw * (ci + 0.5), 783, 'font-size:21px;font-weight:bold;'));
}
txt('B', 17, 592, 'font-size:32px;font-weight:bold;', 'left');
[[170.5, '10d'], [398.5, '20d'], [626, '40d']].forEach(p => txt(p[1], p[0], 592, 'font-size:22px;font-weight:bold;'));
degTable(137, deg10dUp, deg10dDown);
degTable(365, deg20dUp, deg20dDown);
degTable(592.6, deg40dUp, deg40dDown);
degRows.forEach((r, gi) => {
  const top = 612.7 + gi * 51.2;
  txt(r, 110, top + 26, 'font-size:21px;font-weight:bold;', 'right');
  line(123, top + 12, 123, top + 23, 3); poly([[117.5, top + 14], [128.5, top + 14], [123, top + 4]]);
  line(123, top + 28, 123, top + 39, 3); poly([[117.5, top + 37], [128.5, top + 37], [123, top + 47]]);
});
txt('log<sub style="font-size:12px">2</sub>(FC) <u style="text-decoration-thickness:1px">&gt;</u> |1.5| , FDR p-value &lt; 0.05', 459, 818, 'font-size:17px;font-weight:bold;');

// ---------------- D: IPA bar charts ----------------
function ipaChart(o) {
  const padTop = 18, axisH = 50;
  const plotTop = o.firstY - o.sp / 2;
  const yw = o.axisX - o.left;
  const w = yw + o.max * o.ppu + 24;
  const cv = addCanvas(o.left, plotTop - padTop, w, padTop + o.labels.length * o.sp + axisH);
  new Chart(cv, {
    type: 'bar',
    data: {
      labels: o.labels,
      datasets: [{ data: o.values, backgroundColor: o.z.map(fcColor), borderColor: 'rgba(85,85,85,0.85)', borderWidth: 1, borderSkipped: false, barPercentage: 0.7, categoryPercentage: 1 }]
    },
    options: {
      indexAxis: 'y', responsive: false, animation: false, events: [],
      layout: { padding: { top: padTop, right: Math.round(w) - yw - o.max * o.ppu, bottom: 0, left: 0 } },
      plugins: { legend: { display: false }, tooltip: { enabled: false } },
      scales: {
        y: {
          afterFit: s => { s.width = yw; },
          grid: { offset: false, drawOnChartArea: false, tickLength: 5, color: '#000', lineWidth: 1.2 },
          border: { color: '#000', width: 2 },
          ticks: { autoSkip: false, padding: 5, font: { size: 17.5 } }
        },
        x: {
          min: 0, max: o.max,
          afterFit: s => { s.height = axisH; },
          grid: { drawOnChartArea: false, tickLength: 5, color: '#000', lineWidth: 1.2 },
          border: { color: '#000', width: 2 },
          ticks: { stepSize: o.step, includeBounds: false, padding: 2, font: { size: 17.5 } },
          title: { display: true, text: '-log\u2081\u2080(FDR p-value)', font: { size: 17.5 }, padding: 0 }
        }
      }
    }
  });
}
txt('D', 15, 898, 'font-size:33px;font-weight:bold;', 'left');
txt('Microwells vs. Round microwells Top IPA Functions', 704, 897, 'font-size:26px;font-weight:bold;');
txt('z-score <u style="text-decoration-thickness:1.5px">&gt;</u> |2| &amp; FDR p-value &lt; 0.01', 704, 930, 'font-size:26px;font-weight:bold;');
const hd = 'font-size:26px;font-weight:bold;';
txt('10d', 287, 978, hd); txt('Butterfly', 287, 1020.5, hd); txt('Peanut', 287, 1684, hd); txt('C', 287, 2013, hd);
txt('20d', 695, 979, hd); txt('Butterfly', 695, 1022, hd); txt('Peanut', 695, 1388, hd); txt('C', 695, 1757, hd);
txt('40d', 1123, 979, hd); txt('Butterfly', 1123, 1022, hd); txt('Peanut', 1123, 1371, hd); txt('C', 1123, 1614, hd);

const c10 = { left: 0, axisX: 287, ppu: 10.45, step: 5 };
const c20 = { left: 425, axisX: 696, ppu: 5.1, step: 10, max: 25 };
const c40 = { left: 840, axisX: 1122.7, ppu: 21.1, step: 5, max: 6.1 };
ipaChart({ ...c10, max: 12.3, firstY: 1057, sp: 18.35, labels: d10ButterflyLabels, values: d10ButterflyP, z: d10ButterflyZ });
ipaChart({ ...c10, max: 12, firstY: 1719, sp: 17.9, labels: d10PeanutLabels, values: d10PeanutP, z: d10PeanutZ });
ipaChart({ ...c10, max: 12, firstY: 2051, sp: 17.8, labels: d10CLabels, values: d10CP, z: d10CZ });
ipaChart({ ...c20, firstY: 1058.5, sp: 17.9, labels: d20ButterflyLabels, values: d20ButterflyP, z: d20ButterflyZ });
ipaChart({ ...c20, firstY: 1425, sp: 17.9, labels: d20PeanutLabels, values: d20PeanutP, z: d20PeanutZ });
ipaChart({ ...c20, firstY: 1794, sp: 17.9, labels: d20CLabels, values: d20CP, z: d20CZ });
ipaChart({ ...c40, firstY: 1058, sp: 18.4, labels: d40ButterflyLabels, values: d40ButterflyP, z: d40ButterflyZ });
ipaChart({ ...c40, firstY: 1408.7, sp: 18.3, labels: d40PeanutLabels, values: d40PeanutP, z: d40PeanutZ });
ipaChart({ ...c40, firstY: 1652, sp: 17.8, labels: d40CLabels, values: d40CP, z: d40CZ });

// z-score legend
el('div', `position:absolute;left:1065px;top:1768px;width:121px;height:12px;box-sizing:border-box;border:1px solid #777;background:linear-gradient(to right,${fcColor(-4)},#fff,${fcColor(4)});`);
txt('-4', 1065, 1800, 'font-size:15px;'); txt('0', 1125.5, 1800, 'font-size:15px;'); txt('4', 1186, 1800, 'font-size:15px;');
txt('z-score', 1191, 1775, 'font-size:15px;', 'left');

// ---------------- C: heatmap ----------------
const hm = { top: 711, left: 1560.5, labelLeft: 1454, rowH: 21.284, colW: 30.28 };
el('div', 'position:absolute;left:1281px;top:574px;width:557px;height:1862px;box-sizing:border-box;border:2px solid #dedede;border-bottom:none;');
txt('Microwells', 1429, 614, 'font-size:25px;font-weight:bold;');
txt('vs.', 1429, 647, 'font-size:25px;font-weight:bold;');
txt('Round microwells', 1429, 678, 'font-size:25px;font-weight:bold;');
['10d', '20d', '40d'].forEach((d, t) => {
  txt(d, hm.left + hm.colW * (3 * t + 1.5), 591, 'font-size:22px;font-weight:bold;');
  ['Butterfly', 'Peanut', 'C'].forEach((s, si) => {
    const cx = hm.left + hm.colW * (3 * t + si + 0.5);
    el('div', `position:absolute;left:${cx - 11}px;top:705px;transform:rotate(-90deg);transform-origin:0 0;font-size:21px;font-weight:bold;line-height:22px;white-space:nowrap;z-index:4;`, s);
  });
});
let gStart = 0;
heatGroupNames.forEach((g, gi) => {
  const y0 = hm.top + gStart * hm.rowH, h = heatGroupSizes[gi] * hm.rowH;
  const b = el('div', `left:1281.5px;top:${y0}px;width:151.5px;height:${h + 0.5}px;background:${groupStyle[gi][0]};`, g);
  b.className = 'band';
  el('div', `position:absolute;left:1437px;top:${y0}px;width:12px;height:${h + 0.5}px;background:${groupStyle[gi][1]};`);
  gStart += heatGroupSizes[gi];
});
(function heatmap() {
  const pad = 16;
  const yw = hm.left - hm.labelLeft;
  const cv = addCanvas(hm.labelLeft, hm.top - pad, yw + 9 * hm.colW + 2, heatGenes.length * hm.rowH + 2 * pad);
  const datasets = [];
  [fc10d, fc20d, fc40d].forEach((set, t) => [0, 1, 2].forEach(s => {
    const col = t * 3 + s;
    datasets.push({ data: set.map(() => [col, col + 1]), backgroundColor: set.map(r => fcColor(r[s])), borderWidth: 0, grouped: false, barPercentage: 1, categoryPercentage: 1 });
  }));
  const blocks = {
    id: 'hmBlocks',
    afterDatasetsDraw(chart) {
      const { ctx, chartArea: a } = chart;
      const rh = (a.bottom - a.top) / heatGenes.length, cw = (a.right - a.left) / 9;
      ctx.save(); ctx.strokeStyle = '#2b2b2b'; ctx.lineWidth = 1.5;
      let start = 0;
      heatGroupSizes.forEach(n => {
        for (let t = 0; t < 3; t++) ctx.strokeRect(a.left + 3 * t * cw, a.top + start * rh, 3 * cw, n * rh);
        start += n;
      });
      ctx.restore();
    }
  };
  new Chart(cv, {
    type: 'bar',
    data: { labels: heatGenes, datasets },
    options: {
      indexAxis: 'y', responsive: false, animation: false, events: [],
      layout: { padding: { top: pad, bottom: pad, left: 0, right: 2 } },
      plugins: { legend: { display: false }, tooltip: { enabled: false } },
      scales: {
        x: { min: 0, max: 9, display: false },
        y: {
          afterFit: s => { s.width = yw; },
          grid: { display: false }, border: { display: false },
          ticks: { autoSkip: false, crossAlign: 'far', padding: 0, font: { size: 19, style: 'italic' } }
        }
      }
    },
    plugins: [blocks]
  });
})();
// log2 FC legend
el('div', `position:absolute;left:1628px;top:2441px;width:135px;height:14px;box-sizing:border-box;border:1.5px solid #222;background:linear-gradient(to right,${fcColor(-4)},#fff,${fcColor(4)});`);
line(1695.5, 2455, 1695.5, 2460, 1.5);
txt('&le;-4', 1628, 2472, 'font-size:17px;');
txt('&ge; 4', 1763, 2472, 'font-size:17px;');
txt('log<sub style="font-size:12px">2</sub> (FC)', 1767, 2448, 'font-size:18px;', 'left');
</script>
</body>
</html>
